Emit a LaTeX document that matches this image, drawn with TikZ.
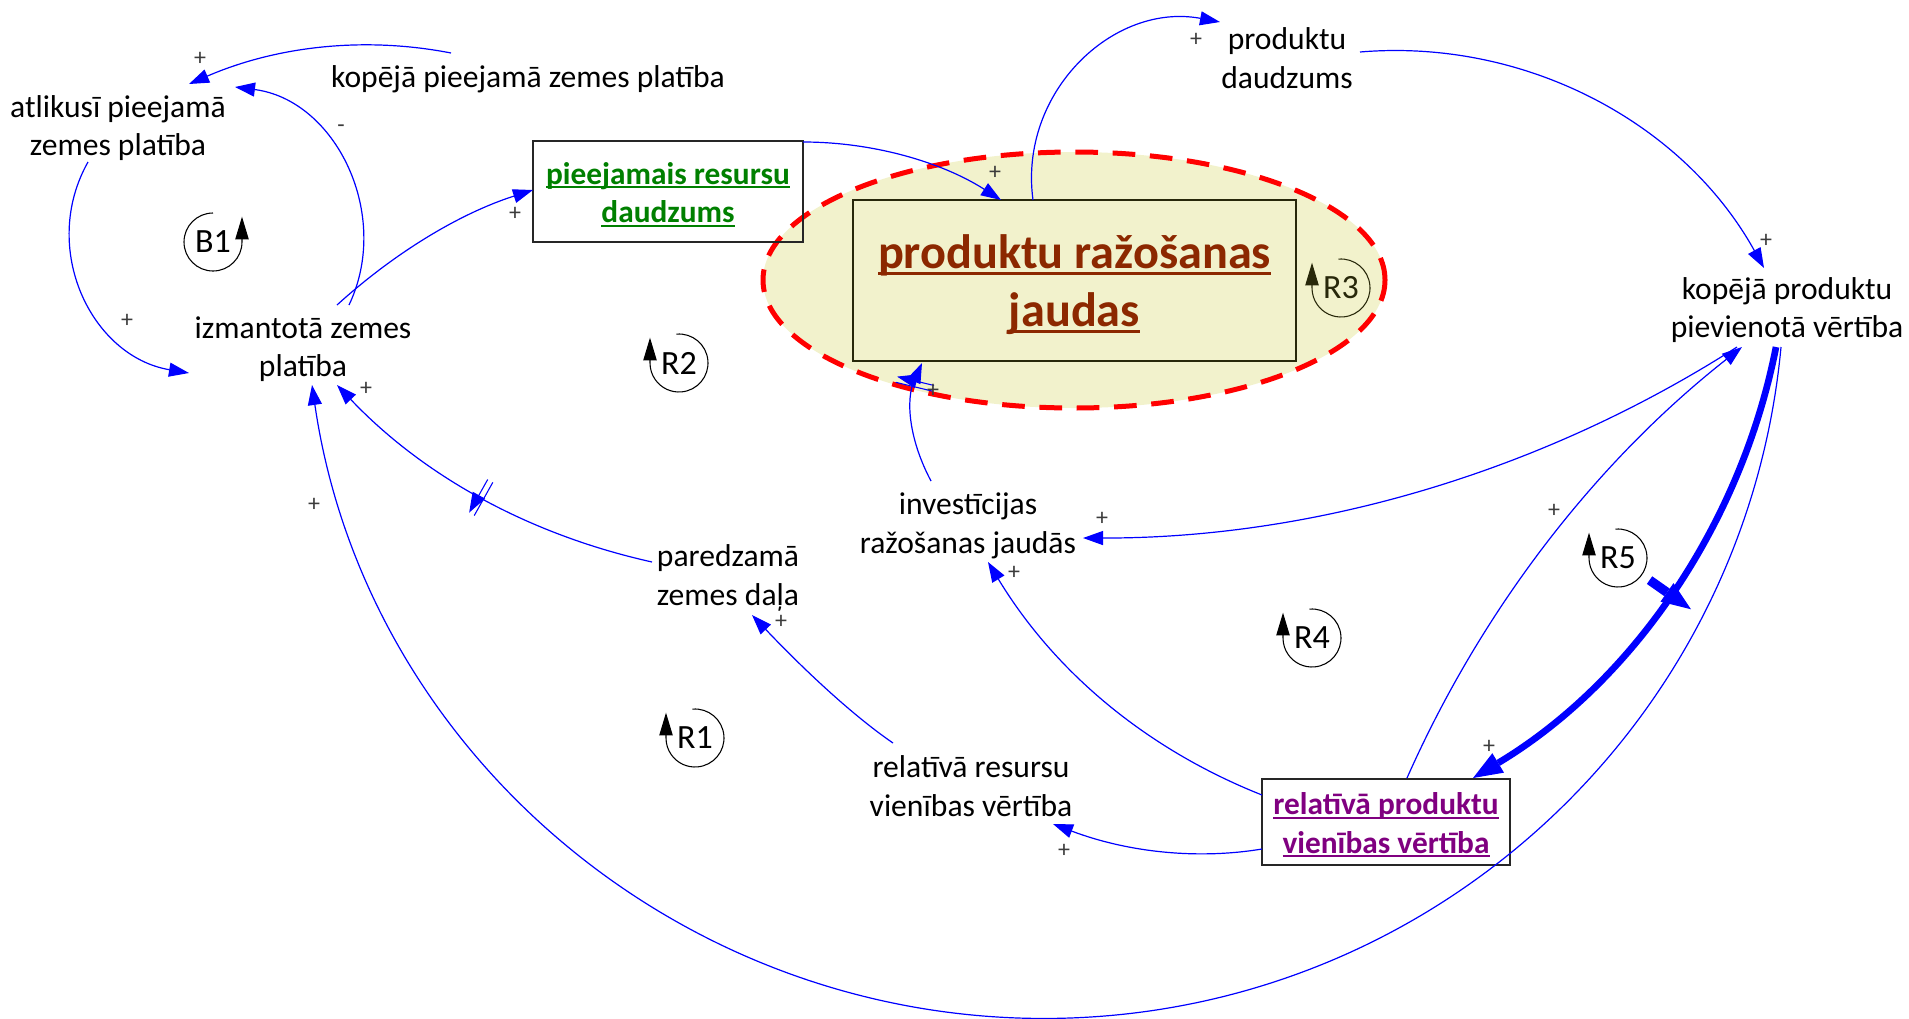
\documentclass[tikz,border=0pt]{standalone}
\usepackage{fontspec}
\setmainfont{Carlito}
\usetikzlibrary{arrows.meta,calc,decorations.markings,shapes.geometric}
\definecolor{linkblue}{RGB}{0,0,255}
\definecolor{titlebrown}{RGB}{140,40,0}
\definecolor{boxgreen}{RGB}{0,128,0}
\definecolor{boxpurple}{RGB}{128,0,128}
\definecolor{ellfill}{RGB}{242,242,204}
\definecolor{olivedark}{RGB}{40,40,10}
\definecolor{signgray}{RGB}{60,60,60}
\newcommand{\myul}[1]{\setbox0=\hbox{#1}\rlap{\rule[-0.13em]{\wd0}{0.06em}}\box0}
\begin{document}
\begin{tikzpicture}[x=0.75pt,y=-0.75pt,
  lbl/.style={font=\fontsize{23.7pt}{28.9pt}\selectfont, align=center, inner sep=0pt},
  boxshape/.style={draw=black!85, line width=1pt, inner sep=0pt},
  boxtext/.style={font=\fontsize{23.5pt}{28.9pt}\selectfont\bfseries, align=center, inner sep=0pt},
  sign/.style={font=\fontsize{18pt}{18pt}\selectfont, text=signgray, inner sep=0pt},
  looplbl/.style={font=\fontsize{25.5pt}{25.5pt}\selectfont, inner sep=0pt},
  loopline/.style={line width=0.8pt, -{Triangle[length=17pt,width=10pt]}},
  link/.style={draw=linkblue, line width=0.9pt, -{Triangle[length=15pt,width=10.5pt]}},
  thicklink/.style={draw=linkblue, line width=5pt, -{Triangle[length=22pt,width=17pt,line width=0pt]}},
  dmark/.style={postaction={decorate}, decoration={markings, mark=at position #1 with {\draw[linkblue, line width=0.8pt] (-2.2pt,-14.25pt) -- (-2.2pt,14.25pt) (2.2pt,-14.25pt) -- (2.2pt,14.25pt);}}},
  tbar/.style={postaction={decorate}, decoration={markings, mark=at position #1 with {\draw[linkblue, line width=7pt] (0pt,-19pt) -- (0pt,19pt);}}}
]
\useasboundingbox (0,0) rectangle (1909,1018);

% highlighted ellipse and central box
\node[ellipse, draw=red, fill=ellfill, line width=3.75pt, dash pattern=on 17pt off 11pt,
      minimum width=466.5pt, minimum height=192pt, inner sep=0pt] (ell) at (1074,280) {};
\node[draw=olivedark, line width=0.8pt, minimum width=332.25pt, minimum height=120.75pt, inner sep=0pt] (prj) at (1074.5,280.5) {};
\node[align=center, inner sep=0pt, text=titlebrown, font=\fontsize{36.2pt}{43.5pt}\selectfont\bfseries] (prjt) at (1074.5,285)
      {\myul{produktu ražošanas}\\\myul{jaudas}};

% variables
\node[lbl] (atl) at (118,128) {atlikusī pieejamā\\zemes platība};
\node[lbl] (kpz) at (528,79) {kopējā pieejamā zemes platība};
\node[lbl] (izm) at (303,349) {izmantotā zemes\\platība};
\node[boxshape, minimum width=202.5pt, minimum height=75.75pt] (prb) at (668,191.5) {};
\node[boxtext, text=boxgreen] (prbt) at (668,194.5) {\myul{pieejamais resursu}\\\myul{daudzums}};
\node[lbl] (prd) at (1287,58) {produktu\\daudzums};
\node[lbl] (kpv) at (1787,310) {kopējā produktu\\pievienotā vērtība};
\node[lbl] (inv) at (968,526) {investīcijas\\ražošanas jaudās};
\node[lbl] (par) at (728,578) {paredzamā\\zemes daļa};
\node[lbl] (rrv) at (971,786) {relatīvā resursu\\vienības vērtība};
\node[boxshape, minimum width=186pt, minimum height=64.5pt] (rpv) at (1386,822) {};
\node[boxtext, text=boxpurple] (rpvt) at (1386,825) {\myul{relatīvā produktu}\\\myul{vienības vērtība}};

% loop markers
\node[looplbl] (b1) at (213,242) {B1};
\draw[loopline] (b1.center) ++(90:21.75pt) arc[start angle=90, end angle=360, radius=21.75pt] -- ++(0pt,19pt);
\node[looplbl] (r2) at (679,363) {R2};
\draw[loopline] (r2.center) ++(95:21.75pt) arc[start angle=95, end angle=-180, radius=21.75pt] -- ++(0pt,19pt);
\node[looplbl, text=olivedark] (r3) at (1341,288) {R3};
\draw[loopline, draw=olivedark] (r3.center) ++(95:21.75pt) arc[start angle=95, end angle=-180, radius=21.75pt] -- ++(0pt,19pt);
\node[looplbl] (r1) at (695,738) {R1};
\draw[loopline] (r1.center) ++(95:21.75pt) arc[start angle=95, end angle=-180, radius=21.75pt] -- ++(0pt,19pt);
\node[looplbl] (r4) at (1312,638) {R4};
\draw[loopline] (r4.center) ++(95:21.75pt) arc[start angle=95, end angle=-180, radius=21.75pt] -- ++(0pt,19pt);
\node[looplbl] (r5) at (1618,558) {R5};
\draw[loopline] (r5.center) ++(95:21.75pt) arc[start angle=95, end angle=-180, radius=21.75pt] -- ++(0pt,19pt);

% connectors
\draw[link] ($(kpz)+(-77,-26)$) .. controls (363.7,36) and (276.3,46.3) .. ($(atl)+(71,-44)$);
\draw[link] ($(izm)+(46,-44)$) .. controls (392,215) and (336,100) .. ($(atl)+(117,-41)$);
\draw[link] ($(izm)+(34,-44)$) .. controls (395.7,251.7) and (461,213) .. ($(prb)+(-135,-1.5)$);
\draw[link] ($(atl)+(-30,34)$) .. controls (39.3,248.4) and (91.2,356.6) .. ($(izm)+(-114,24)$);
\draw[link] ($(prb)+(135,-49.5)$) .. controls (873,142) and (942,162.2) .. ($(prj)+(-73.5,-80.5)$);
\draw[link] ($(prj)+(-41.5,-80.5)$) .. controls (1018.3,92.4) and (1113.2,2) .. ($(prd)+(-67,-36)$);
\draw[link] ($(prd)+(73,-6)$) .. controls (1525.4,38.1) and (1683.5,122.8) .. ($(kpv)+(-23,-42)$);
\draw[link, dmark=0.5] ($(par)+(-76,-16)$) .. controls (527.7,534.3) and (422.7,475.3) .. ($(izm)+(34,36)$);
\draw[link] ($(rrv)+(-78,-43)$) .. controls (856,717.7) and (809,675) .. ($(par)+(24,37)$);
\draw[link] ($(rpv)+(-124,27)$) .. controls (1195.7,860) and (1126,851.7) .. ($(rrv)+(82,38)$);
\draw[link] ($(rpv)+(-124,-27)$) .. controls (1145.3,748.7) and (1054,671) .. ($(inv)+(20,36)$);
\draw[link] ($(kpv)+(-50,37)$) .. controls (1541.8,471.9) and (1314.8,538.4) .. ($(inv)+(115,12)$);
\draw[thicklink, tbar=0.5] ($(kpv)+(-11,37)$) .. controls (1740.6,527.1) and (1630.5,683.6) .. ($(rpv)+(87,-44)$);
\coordinate (arcbottom) at (1063.3,1018.2);
\draw[link] ($(kpv)+(-6,37)$) .. controls (1746.3,720.2) and (1438,1008.5) .. (arcbottom)
  .. controls (688.6,1027.9) and (366,755.9) .. ($(izm)+(9,36)$);
\draw[link] ($(rpv)+(21,-44)$) .. controls (1482.1,608.5) and (1596.3,461.6) .. ($(kpv)+(-45,37)$);
\draw[link, dmark=0.82] ($(inv)+(-37,-45)$) .. controls (908.7,439) and (905.7,399.7) .. ($(prj)+(-152.5,82.5)$);

% polarity signs
\node[sign] (s1) at (200,59) {+};
\node[sign] (s2) at (341,129) {-};
\node[sign] (s3) at (515,214) {+};
\node[sign] (s4) at (127,321) {+};
\node[sign] (s5) at (995,173) {+};
\node[sign] (s6) at (1196,40) {+};
\node[sign] (s7) at (1766,241) {+};
\node[sign] (s8) at (366,389) {+};
\node[sign] (s9) at (781,622) {+};
\node[sign] (s10) at (1064,851) {+};
\node[sign] (s11) at (1014,573) {+};
\node[sign] (s12) at (1102,519) {+};
\node[sign] (s13) at (1489,747) {+};
\node[sign] (s14) at (314,505) {+};
\node[sign] (s15) at (1554,511) {+};
\node[sign] (s16) at (933,391) {+};
\end{tikzpicture}
\end{document}
